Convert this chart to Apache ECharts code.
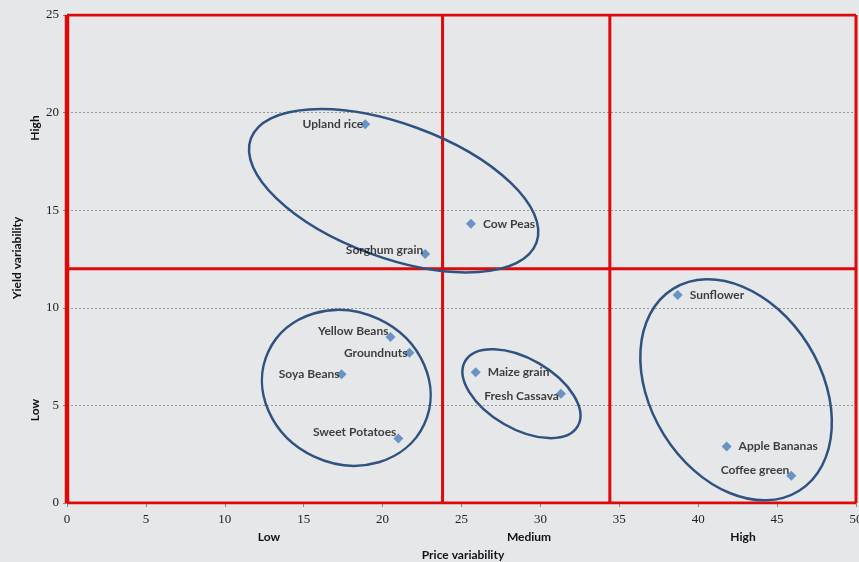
<!DOCTYPE html>
<html>
<head>
<meta charset="utf-8">
<script src="https://cdn.jsdelivr.net/npm/echarts@6/dist/echarts.min.js"></script>
<style>
html,body{margin:0;padding:0;background:#e5e7e9;}
#chart{width:859px;height:562px;}
</style>
</head>
<body>
<div id="chart"></div>
<script>
// ---- data ----
var crops = ['Upland rice','Cow Peas','Sorghum grain','Yellow Beans','Groundnuts','Soya Beans','Sweet Potatoes','Maize grain','Fresh Cassava','Sunflower','Apple Bananas','Coffee green'];
var priceVariability = [18.9, 25.6, 22.7, 20.5, 21.7, 17.4, 21.0, 25.9, 31.3, 38.7, 41.8, 45.9];
var yieldVariability = [19.4, 14.3, 12.75, 8.5, 7.7, 6.6, 3.3, 6.7, 5.6, 10.65, 2.9, 1.4];
var priceDividers = [23.8, 34.4];
var yieldDivider = [12];
var xTicks = [0, 50, 5];
var yTicks = [0, 25, 5];
var priceClasses = ['Low', 'Medium', 'High'];
var yieldClasses = ['High', 'Low'];

// ---- label placement (style) ----
var labelSide = {
  'Upland rice': ['left', 0], 'Cow Peas': ['right', 0], 'Sorghum grain': ['left', -4],
  'Yellow Beans': ['left', -6], 'Groundnuts': ['left', 0], 'Soya Beans': ['left', 0],
  'Sweet Potatoes': ['left', -6], 'Maize grain': ['right', 0], 'Fresh Cassava': ['left', 2],
  'Sunflower': ['right', 0], 'Apple Bananas': ['right', 0], 'Coffee green': ['left', -6]
};

var RED = '#dd0a0a';
var chart = echarts.init(document.getElementById('chart'));

var points = crops.map(function (c, i) {
  var s = labelSide[c];
  return {
    name: c,
    value: [priceVariability[i], yieldVariability[i]],
    label: {
      show: true, formatter: c, position: s[0],
      distance: s[0] === 'left' ? -3 : 7,
      offset: [0, s[1]]
    }
  };
});

function seg(a, b, w) {
  return {
    type: 'line', data: [a, b], symbol: 'none', silent: true, z: 3,
    lineStyle: { color: RED, width: w || 3 }, animation: false
  };
}

var series = [];
// outer box
series.push(seg([xTicks[0], yTicks[0]], [xTicks[0], yTicks[1]], 4.5));
series.push(seg([xTicks[0], yTicks[1]], [xTicks[1], yTicks[1]], 3));
series.push(seg([xTicks[1], yTicks[1]], [xTicks[1], yTicks[0]], 3));
series.push(seg([xTicks[0], yTicks[0]], [xTicks[1], yTicks[0]], 3));
priceDividers.forEach(function (d) { series.push(seg([d, yTicks[0]], [d, yTicks[1]], 3)); });
yieldDivider.forEach(function (d) { series.push(seg([xTicks[0], d], [xTicks[1], d], 3)); });

series.push({
  type: 'scatter', data: points, symbol: 'diamond', symbolSize: 10, z: 5,
  itemStyle: { color: '#4a7ebb' },
  label: { color: '#111', fontFamily: 'Lato', fontWeight: 'bold', fontSize: 12 },
  animation: false
});

chart.setOption({
  backgroundColor: '#e5e7e9',
  animation: false,
  grid: { left: 67, right: 3, top: 15, bottom: 59, containLabel: false, outerBoundsMode: 'none' },
  xAxis: {
    type: 'value', min: xTicks[0], max: xTicks[1], interval: xTicks[2],
    axisLine: { show: false },
    axisTick: { show: true, length: 4, lineStyle: { color: '#888' } },
    splitLine: { show: false },
    axisLabel: { margin: 10, color: '#222', fontFamily: 'Liberation Serif', fontSize: 13 }
  },
  yAxis: {
    type: 'value', min: yTicks[0], max: yTicks[1], interval: yTicks[2],
    axisLine: { show: false },
    axisTick: { show: true, length: 4, lineStyle: { color: '#888' } },
    splitLine: { show: true, lineStyle: { color: '#9a9a9a', type: [2, 2], width: 1 } },
    axisLabel: { margin: 8, color: '#222', fontFamily: 'Liberation Serif', fontSize: 13 }
  },
  series: series
});

// ellipses (centers in data units, radii/rotation in pixels)
var ellipses = [
  { c: [20.7, 16.0], a: 152, b: 67, rot: 20 },
  { c: [17.7, 5.9], a: 86, b: 76, rot: 25 },
  { c: [28.8, 5.6], a: 65, b: 35, rot: 30 },
  { c: [42.4, 5.8], a: 119, b: 85, rot: 58 }
];
var graphics = ellipses.map(function (e) {
  var p = chart.convertToPixel({ gridIndex: 0 }, e.c);
  return {
    type: 'ellipse', x: p[0], y: p[1], rotation: -e.rot * Math.PI / 180,
    shape: { cx: 0, cy: 0, rx: e.a, ry: e.b },
    style: { fill: null, stroke: '#2f5281', lineWidth: 2.5 }, z: 4
  };
});
var txt = { fontFamily: 'Lato', fontWeight: 'bold', fontSize: 12, fill: '#111' };
var classX = [269, 529, 743];
priceClasses.forEach(function (t, i) {
  graphics.push({ type: 'text', x: classX[i], y: 537, style: Object.assign({ text: t, align: 'center', verticalAlign: 'middle' }, txt) });
});
graphics.push({ type: 'text', x: 463, y: 555, style: Object.assign({ text: 'Price variability', align: 'center', verticalAlign: 'middle' }, txt) });
var classY = [128, 410];
yieldClasses.forEach(function (t, i) {
  graphics.push({ type: 'text', x: 35, y: classY[i], rotation: Math.PI / 2, style: Object.assign({ text: t, align: 'center', verticalAlign: 'middle' }, txt) });
});
graphics.push({ type: 'text', x: 17, y: 258, rotation: Math.PI / 2, style: Object.assign({ text: 'Yield variability', align: 'center', verticalAlign: 'middle' }, txt) });
chart.setOption({ graphic: graphics });
</script>
</body>
</html>
